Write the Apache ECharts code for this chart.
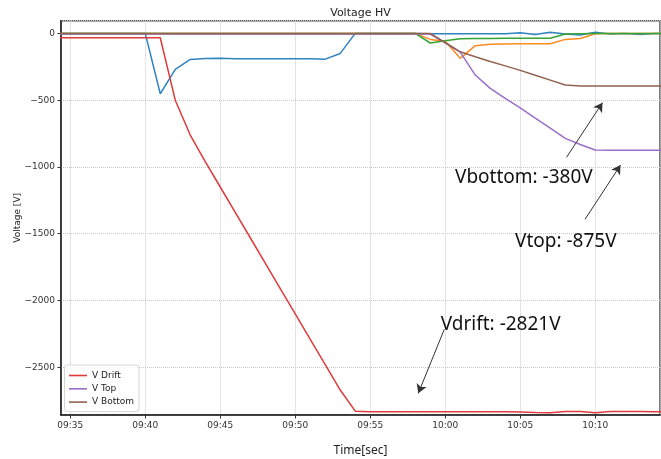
<!DOCTYPE html>
<html><head><meta charset="utf-8">
<script src="https://cdn.jsdelivr.net/npm/echarts@6/dist/echarts.min.js"></script>
<style>html,body{margin:0;padding:0;background:#fff}#c{width:661px;height:459px}</style>
</head><body><div id="c"></div>
<script>
const times = ["09:34","09:35","09:36","09:37","09:38","09:39","09:40","09:41","09:42","09:43","09:44","09:45","09:46","09:47","09:48","09:49","09:50","09:51","09:52","09:53","09:54","09:55","09:56","09:57","09:58","09:59","10:00","10:01","10:02","10:03","10:04","10:05","10:06","10:07","10:08","10:09","10:10","10:11","10:12","10:13","10:14","10:15"];

const ch0 = [0,0,0,0,0,0,0,-452,-270,-195,-188,-186,-190,-190,-189,-189,-189,-189,-193,-150,0,0,0,0,0,-2,-2,-2,-3,-2,-3,5,-8,8,-5,-12,8,-5,0,-8,0,0];
const ch1 = [0,0,0,0,0,0,0,0,0,0,0,0,0,0,0,0,0,0,0,0,0,0,0,0,0,-45,-58,-187,-92,-82,-80,-78,-78,-78,-45,-38,-3,0,0,0,0,0];
const ch2 = [0,0,0,0,0,0,0,0,0,0,0,0,0,0,0,0,0,0,0,0,0,0,0,0,0,-72,-55,-40,-38,-38,-37,-37,-37,-37,-5,-2,0,0,0,0,0,0];
const vDrift = [-33,-33,-33,-33,-33,-33,-33,-33,-500,-761,-960,-1150,-1340,-1530,-1720,-1910,-2100,-2290,-2480,-2670,-2828,-2833,-2833,-2833,-2833,-2833,-2833,-2833,-2832,-2832,-2833,-2834,-2838,-2840,-2831,-2831,-2840,-2831,-2830,-2831,-2833,-2833];
const vTop = [-5,-5,-5,-5,-5,-5,-5,-5,-5,-5,-5,-5,-5,-5,-5,-5,-5,-5,-5,-5,-5,-5,-5,-5,-5,-5,-70,-140,-312,-412,-487,-558,-635,-710,-786,-832,-873,-875,-875,-875,-875,-875];
const vBottom = [0,0,0,0,0,0,0,0,0,0,0,0,0,0,0,0,0,0,0,0,0,0,0,0,0,0,-70,-138,-175,-210,-243,-277,-313,-350,-387,-393,-393,-393,-393,-393,-393,-393];

const legendNames = ["V Drift","V Top","V Bottom"];
const xRange = ["09:34:23","10:14:19"];
const yRange = [-2857, 95];

// annotations (data coordinates: time, volts)
const annoTexts = ["Vbottom: -380V","Vtop: -875V","Vdrift: -2821V"];
const annoTextAt = [["10:00:37",-1076],["10:04:37",-1560],["09:59:40",-2183]];
const annoArrowFrom = [["10:08:05",-928],["10:09:19",-1392],["09:59:56",-2216]];
const annoArrowTo = [["10:10:29",-519],["10:11:41",-986],["09:58:12",-2695]];

function toMin(s){const p=s.split(':').map(Number);return p[0]*60+p[1]+(p[2]||0)/60;}
function fmtTime(v){const m=Math.round(v);const h=Math.floor(m/60),mm=m%60;return (h<10?'0':'')+h+':'+(mm<10?'0':'')+mm;}
function pts(arr){return arr.map((v,i)=>[toMin(times[i]),v]);}

const tickFont = {fontFamily:'DejaVu Sans',fontSize:9,color:'#333'};
const colors = ['#2f84c0','#ff8a1f','#35a435','#e03a3b','#9a6fc6','#92614f'];

const base = {type:'line',symbol:'none',showSymbol:false,clip:true,animation:false,silent:true};
const series = [
  Object.assign({},base,{name:'ch0',data:pts(ch0),lineStyle:{width:1.5,color:colors[0]},itemStyle:{color:colors[0]}}),
  Object.assign({},base,{name:'ch1',data:pts(ch1),lineStyle:{width:1.5,color:colors[1]},itemStyle:{color:colors[1]}}),
  Object.assign({},base,{name:'ch2',data:pts(ch2),lineStyle:{width:1.5,color:colors[2]},itemStyle:{color:colors[2]}}),
  Object.assign({},base,{name:legendNames[0],data:pts(vDrift),lineStyle:{width:1.5,color:colors[3]},itemStyle:{color:colors[3]}}),
  Object.assign({},base,{name:legendNames[1],data:pts(vTop),lineStyle:{width:1.5,color:colors[4]},itemStyle:{color:colors[4]}}),
  Object.assign({},base,{name:legendNames[2],data:pts(vBottom),lineStyle:{width:1.5,color:colors[5]},itemStyle:{color:colors[5]},
    markLine:{silent:true,animation:false,symbol:['none','arrow'],symbolSize:[8,9],
      lineStyle:{color:'#333',width:1,type:'solid'},label:{show:false},
      data:annoArrowFrom.map((f,i)=>[{coord:[toMin(f[0]),f[1]]},{coord:[toMin(annoArrowTo[i][0]),annoArrowTo[i][1]]}])},
    markPoint:{silent:true,animation:false,symbol:'circle',symbolSize:1,itemStyle:{color:'rgba(0,0,0,0)'},
      label:{show:true,position:'right',distance:0,color:'#111',fontSize:19,fontFamily:'Noto Sans'},
      data:annoTexts.map((t,i)=>({coord:[toMin(annoTextAt[i][0]),annoTextAt[i][1]],value:t,label:{formatter:t}}))}
  })
];

const chart = echarts.init(document.getElementById('c'),null,{renderer:'canvas'});
chart.setOption({
  animation:false,
  backgroundColor:'#fff',
  graphic:[{type:'text',x:360.5,y:13,silent:true,style:{text:'Voltage HV',fontFamily:'DejaVu Sans',fontSize:11,fill:'#222',textAlign:'center',textVerticalAlign:'middle'}}],
  grid:{left:61,right:1,top:20.7,bottom:44,containLabel:false,outerBoundsMode:'none',show:true,borderColor:'#555',borderWidth:1.5,backgroundColor:'#fff'},
  legend:{data:legendNames,orient:'vertical',left:64.5,top:365,icon:'rect',itemWidth:18,itemHeight:1.6,itemGap:2.3,
    padding:[5,5,4,4.5],backgroundColor:'rgba(255,255,255,0.85)',borderColor:'#d5d5d5',borderWidth:1,borderRadius:3,
    textStyle:{fontFamily:'DejaVu Sans',fontSize:9,color:'#222',lineHeight:11},selectedMode:false},
  xAxis:{type:'value',min:toMin(xRange[0]),max:toMin(xRange[1]),splitNumber:8,
    axisLine:{show:true,onZero:false,lineStyle:{color:'#222',width:1.5}},
    axisTick:{show:true,length:3.5,lineStyle:{color:'#333'}},
    axisLabel:Object.assign({formatter:fmtTime,margin:6,showMinLabel:false,showMaxLabel:false},tickFont),
    splitLine:{show:true,lineStyle:{color:'#c8c8c8',type:'dotted',width:1}},
    name:'Time[sec]',nameLocation:'middle',nameGap:30,nameMoveOverlap:false,nameTextStyle:{fontFamily:'Noto Sans',fontSize:12,color:'#222'}},
  yAxis:{type:'value',min:yRange[0],max:yRange[1],splitNumber:6,
    axisLine:{show:true,onZero:false,lineStyle:{color:'#222',width:1.5}},
    axisTick:{show:true,length:3.5,lineStyle:{color:'#333'}},
    axisLabel:Object.assign({formatter:v=>String(v).replace('-','\u2212'),margin:6,showMinLabel:false,showMaxLabel:false},tickFont),
    splitLine:{show:true,lineStyle:{color:'#c8c8c8',type:'dotted',width:1}},
    name:'Voltage [V]',nameLocation:'middle',nameGap:39,nameMoveOverlap:false,nameTextStyle:{fontFamily:'DejaVu Sans',fontSize:9,color:'#222'}},
  series:series
});
</script></body></html>
